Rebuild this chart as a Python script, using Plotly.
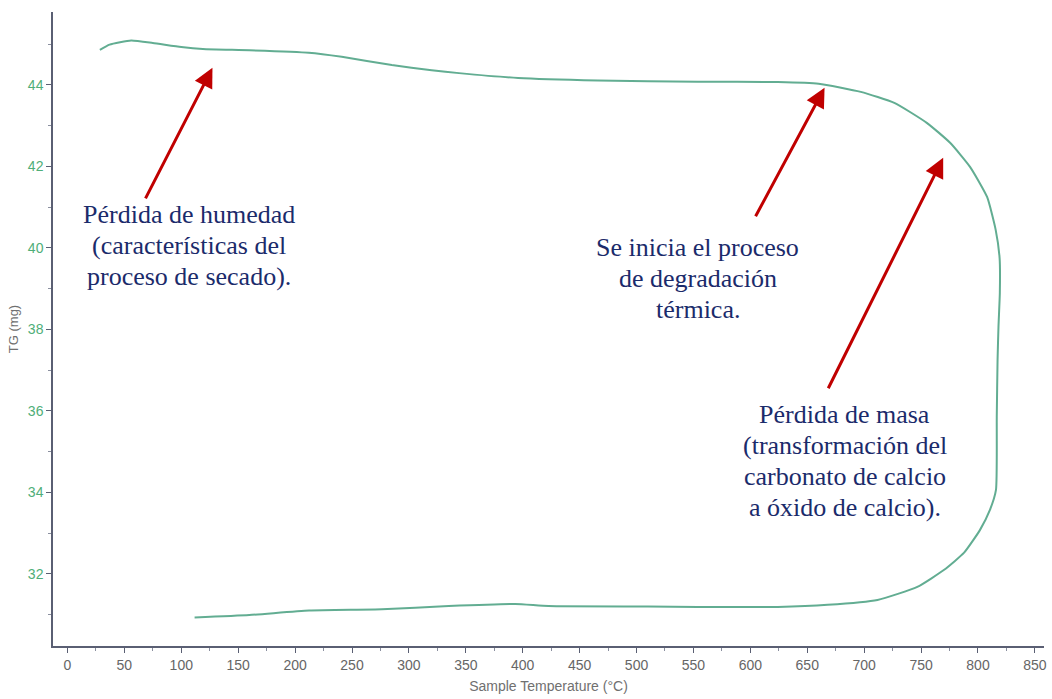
import plotly.graph_objects as go

# TG curve (path order: top left -> right -> down -> back left along bottom)
temperature = [28.5, 37, 56, 75, 100, 119, 160, 212, 241, 285, 320, 344, 396, 466, 554, 624,
               660, 697, 726.5, 755, 775.5, 793, 808, 815.5, 819.0, 819.2, 818.0, 817.2,
               816.5, 815.8, 810.5, 801.8, 787.8, 770.3, 746.7, 711.7, 667.9, 624, 554, 510,
               422.6, 393.4, 335, 276.3, 212.3, 159.8, 111.7]
mass_mg = [44.86, 44.99, 45.09, 45.03, 44.93, 44.88, 44.85, 44.79, 44.69, 44.49, 44.36, 44.29,
           44.17, 44.11, 44.08, 44.07,
           44.03, 43.83, 43.56, 43.07, 42.58, 41.99, 41.25, 40.45, 39.75, 38.9, 38.06, 37.25,
           35.85, 34.06, 33.57, 33.08, 32.52, 32.1, 31.68, 31.36, 31.24, 31.19, 31.19, 31.20,
           31.21, 31.26, 31.21, 31.13, 31.10, 30.99, 30.93]

x_ticks = list(range(0, 851, 50))
y_ticks = [32, 34, 36, 38, 40, 42, 44]

notes = [
    ["Pérdida de humedad", "(características del", "proceso de secado)."],
    ["Se inicia el proceso", "de degradación", "térmica."],
    ["Pérdida de masa", "(transformación del", "carbonato de calcio", "a óxido de calcio)."],
]
note_x = [106.4, 553.9, 683.0]
note_y = [40.05, 39.26, 34.77]
arrow_head_x = [127.4, 665.2, 769.4]
arrow_head_y = [44.42, 43.93, 42.21]
arrow_tail_x = [67.9, 603.9, 667.8]
arrow_tail_y = [41.18, 40.74, 36.52]

fig = go.Figure()
fig.add_trace(go.Scatter(x=temperature, y=mass_mg, mode="lines",
                         line=dict(color="#62ad92", width=2, shape="spline", smoothing=0.5),
                         showlegend=False, hoverinfo="skip"))

LINE_STEP = 31
annotations = []
for lines, x, y in zip(notes, note_x, note_y):
    n = len(lines)
    for i, t in enumerate(lines):
        annotations.append(dict(x=x, y=y, xref="x", yref="y", text=t, showarrow=False,
                                xanchor="center", yanchor="middle", align="center",
                                yshift=((n - 1) / 2 - i) * LINE_STEP,
                                font=dict(family="Liberation Serif, Times New Roman, serif",
                                          size=26, color="#1b2b6b")))
for hx, hy, tx, ty in zip(arrow_head_x, arrow_head_y, arrow_tail_x, arrow_tail_y):
    annotations.append(dict(x=hx, y=hy, xref="x", yref="y", ax=tx, ay=ty,
                            axref="x", ayref="y", text="", showarrow=True,
                            arrowhead=2, arrowsize=1.3, arrowwidth=3, arrowcolor="#c00000"))

tick_font = "Liberation Sans Narrow, Arial Narrow, Liberation Sans, Arial, sans-serif"

fig.update_layout(
    width=1052, height=699,
    margin=dict(l=53, r=5, t=12, b=53),
    paper_bgcolor="white", plot_bgcolor="white",
    annotations=annotations,
    xaxis=dict(range=[-12.7, 858], tickvals=x_ticks, showgrid=False, zeroline=False,
               showline=True, linecolor="#5a5f73", linewidth=1.5,
               ticks="outside", ticklen=5, tickcolor="#5a5f73",
               minor=dict(dtick=25, tick0=0, ticks="outside", ticklen=3, tickcolor="#8a8f9f"),
               tickfont=dict(family=tick_font, size=14, color="#666666"),
               title=dict(text="Sample Temperature (°C)", standoff=10,
                          font=dict(family=tick_font, size=14, color="#707070"))),
    yaxis=dict(range=[30.23, 45.79], tickvals=y_ticks, showgrid=False, zeroline=False,
               showline=True, linecolor="#5a5f73", linewidth=1.5,
               ticks="outside", ticklen=5, tickcolor="#5a5f73",
               minor=dict(dtick=1, tick0=0, ticks="outside", ticklen=3, tickcolor="#8a8f9f"),
               tickfont=dict(family=tick_font, size=14, color="#4fae78"),
               title=dict(text="TG (mg)", standoff=6,
                          font=dict(family=tick_font, size=13, color="#707070"))),
)

fig.write_html("out.html")
